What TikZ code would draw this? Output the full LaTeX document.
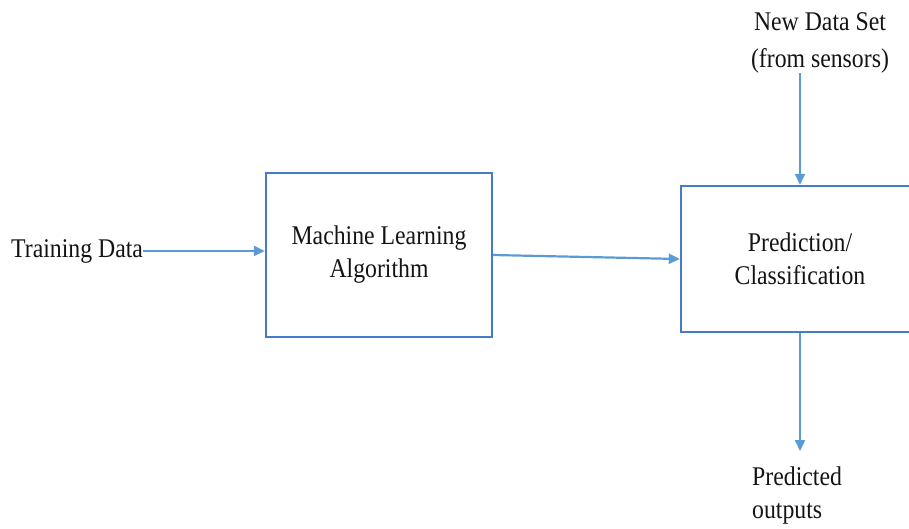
\documentclass[tikz,border=0pt]{standalone}
\usepackage{fontspec}
\setmainfont{Liberation Serif}[FakeStretch=0.88]
\usetikzlibrary{arrows.meta}
\definecolor{boxblue}{RGB}{72,122,204}
\definecolor{arrblue}{RGB}{91,155,213}
\definecolor{txt}{RGB}{20,20,20}
\begin{document}
\begin{tikzpicture}[x=1pt,y=-1pt,
  lbl/.style={inner sep=0pt, text=txt, font=\fontsize{27}{33}\selectfont},
  blk/.style={draw=boxblue, line width=2.4pt, inner sep=0pt, text=txt,
    font=\fontsize{27}{33}\selectfont, align=center},
  arr/.style={draw=arrblue, line width=2.2pt, -{Triangle[length=11pt,width=10pt]}}]
\useasboundingbox (0,0) rectangle (909,528);
\clip (0,0) rectangle (909,528);
\node[blk, minimum width=226pt, minimum height=164pt] (b1) at (379,255) {Machine Learning\\Algorithm};
\node[blk, minimum width=238pt, minimum height=146pt] (b2) at (800,259) {Prediction/\\Classification};
\node[lbl, anchor=base west] (td) at (11,257) {Training Data};
\node[lbl, align=center, anchor=north, font=\fontsize{27}{37}\selectfont] (nd) at (820,12) {New Data Set\\(from sensors)};
\node[lbl, align=left, anchor=north west] (po) at (752,467) {Predicted\\outputs};
\draw[arr] (td.east) -- (td.east -| b1.west);
\draw[arr] (b1.east) -- (b2.west);
\draw[arr] (nd.south -| b2.north) -- (b2.north);
\draw[arr, shorten >=16pt] (b2.south) -- (po.north -| b2.south);
\end{tikzpicture}
\end{document}
